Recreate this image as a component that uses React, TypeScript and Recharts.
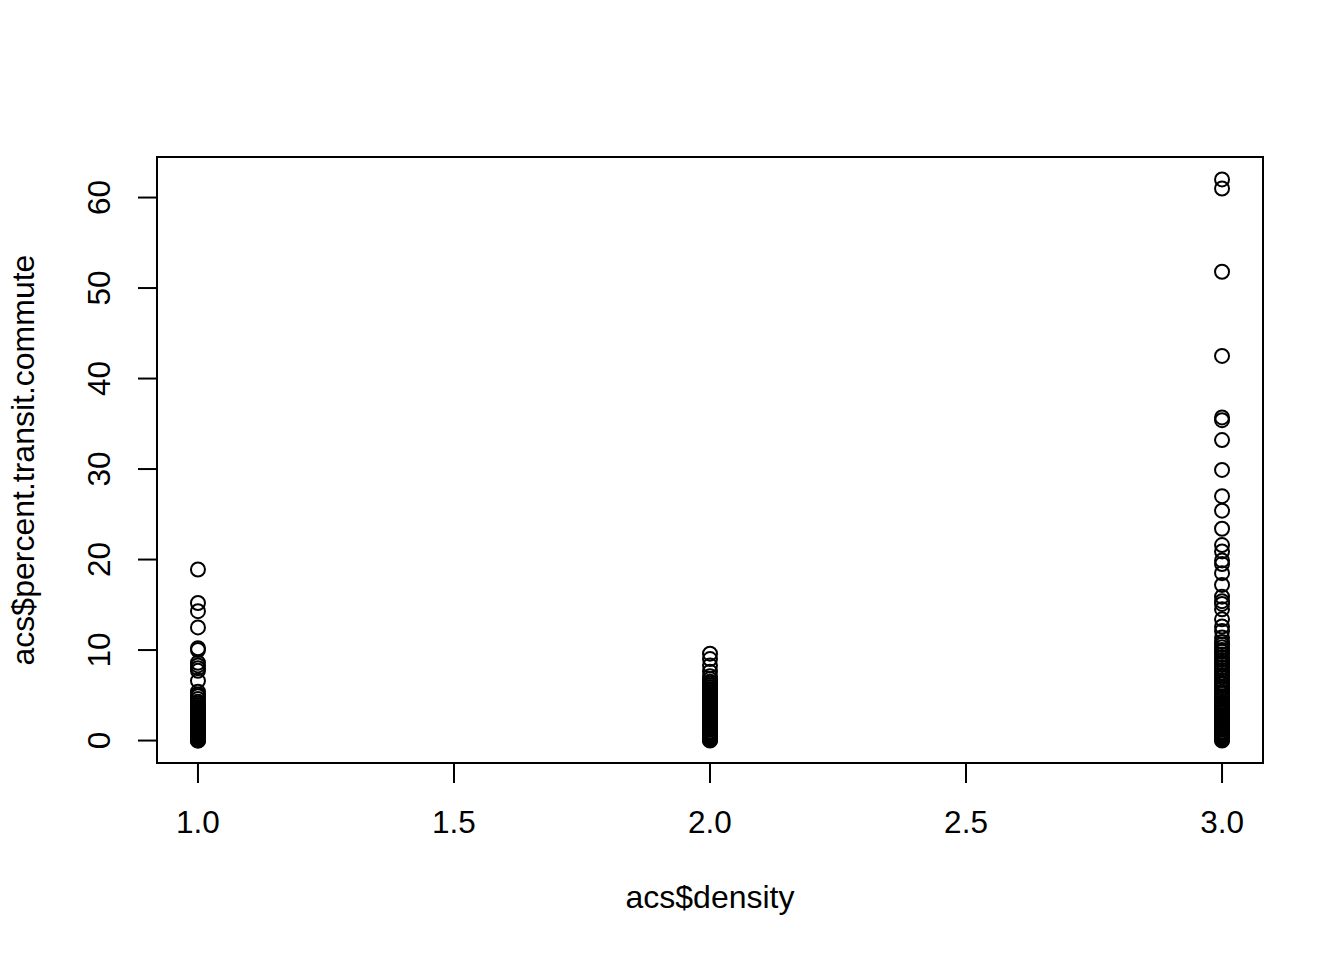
import React from 'react';
import { ScatterChart, Scatter, XAxis, YAxis, ReferenceArea, Label } from 'recharts';

// acs$percent.transit.commute, grouped by acs$density
const density1 = [18.9, 15.2, 14.3, 12.5, 10.2, 10.0, 8.6, 8.3, 8.0, 7.7, 6.6, 5.4, 5.1, 4.9, 4.6, 4.3, 4.1, 3.9, 3.7, 3.5, 3.4, 3.2, 3.0, 2.9, 2.7, 2.6, 2.5, 2.3, 2.2, 2.1, 1.9, 1.8, 1.7, 1.6, 1.5, 1.4, 1.3, 1.2, 1.1, 1.0, 0.9, 0.8, 0.7, 0.6, 0.5, 0.4, 0.3, 0.3, 0.2, 0.1, 0.1, 0.0, 0.0];
const density2 = [9.6, 9.0, 8.3, 7.6, 7.1, 6.8, 6.5, 6.3, 6.1, 5.9, 5.7, 5.5, 5.3, 5.1, 4.9, 4.7, 4.5, 4.3, 4.1, 3.9, 3.8, 3.6, 3.4, 3.2, 3.0, 2.9, 2.7, 2.6, 2.4, 2.3, 2.1, 1.9, 1.8, 1.6, 1.5, 1.3, 1.2, 1.0, 0.9, 0.8, 0.7, 0.6, 0.5, 0.4, 0.3, 0.2, 0.1, 0.1, 0.0];
const density3 = [62.0, 61.0, 51.8, 42.5, 35.7, 35.4, 33.2, 29.9, 27.0, 25.4, 23.4, 21.6, 20.9, 19.9, 19.5, 18.5, 17.2, 15.9, 15.4, 15.1, 14.5, 13.4, 12.6, 12.1, 11.4, 10.9, 10.6, 10.3, 10.0, 9.8, 9.5, 9.2, 8.9, 8.6, 8.4, 8.1, 7.8, 7.5, 7.2, 7.0, 6.7, 6.4, 6.2, 5.9, 5.7, 5.4, 5.2, 4.9, 4.7, 4.5, 4.2, 4.0, 3.8, 3.6, 3.4, 3.2, 3.0, 2.8, 2.6, 2.4, 2.2, 2.0, 1.8, 1.6, 1.5, 1.3, 1.2, 1.0, 0.9, 0.8, 0.7, 0.6, 0.5, 0.4, 0.3, 0.2, 0.1, 0.0];

const xTicks = [1, 1.5, 2, 2.5, 3];
const yTicks = [0, 10, 20, 30, 40, 50, 60];

const points = [
  ...density1.map((v) => ({ density: 1, transit: v })),
  ...density2.map((v) => ({ density: 2, transit: v })),
  ...density3.map((v) => ({ density: 3, transit: v })),
];

const FONT = '"Liberation Sans", Arial, Helvetica, sans-serif';

const Ring = (props: any) => (
  <circle cx={props.cx} cy={props.cy} r={7} fill="none" stroke="#000" strokeWidth={2} />
);

const XTick = ({ x, payload }: any) => (
  <text x={x} y={825} textAnchor="middle" fontSize={31.5} fontFamily={FONT} fill="#000">
    {Number(payload.value).toFixed(1)}
  </text>
);

const YTick = ({ y, payload }: any) => (
  <text transform={`translate(102, ${y}) rotate(-90)`} textAnchor="middle" fontSize={31.5} fontFamily={FONT} fill="#000">
    {payload.value}
  </text>
);

export default function App() {
  return (
    <ScatterChart width={1328} height={944} margin={{ top: 149, right: 73, bottom: 129, left: 89 }}>
      <XAxis
        type="number"
        dataKey="density"
        domain={[0.92, 3.08]}
        ticks={xTicks}
        allowDataOverflow
        height={60}
        axisLine={false}
        tickSize={20}
        tickLine={{ stroke: '#000', strokeWidth: 2 }}
        tick={<XTick />}
      >
        <Label
          content={() => (
            <text x={702} y={900} textAnchor="middle" fontSize={32} fontFamily={FONT} fill="#000">
              acs$density
            </text>
          )}
        />
      </XAxis>
      <YAxis
        type="number"
        dataKey="transit"
        domain={[-2.48, 64.48]}
        ticks={yTicks}
        allowDataOverflow
        width={60}
        axisLine={false}
        tickSize={19}
        tickLine={{ stroke: '#000', strokeWidth: 2 }}
        tick={<YTick />}
      >
        <Label
          content={() => (
            <text transform="translate(26, 452) rotate(-90)" textAnchor="middle" fontSize={32} fontFamily={FONT} fill="#000">
              acs$percent.transit.commute
            </text>
          )}
        />
      </YAxis>
      <ReferenceArea x1={0.92} x2={3.08} y1={-2.48} y2={64.48} fill="none" stroke="#000" strokeWidth={2} ifOverflow="visible" />
      <Scatter data={points} shape={Ring} isAnimationActive={false} />
    </ScatterChart>
  );
}
